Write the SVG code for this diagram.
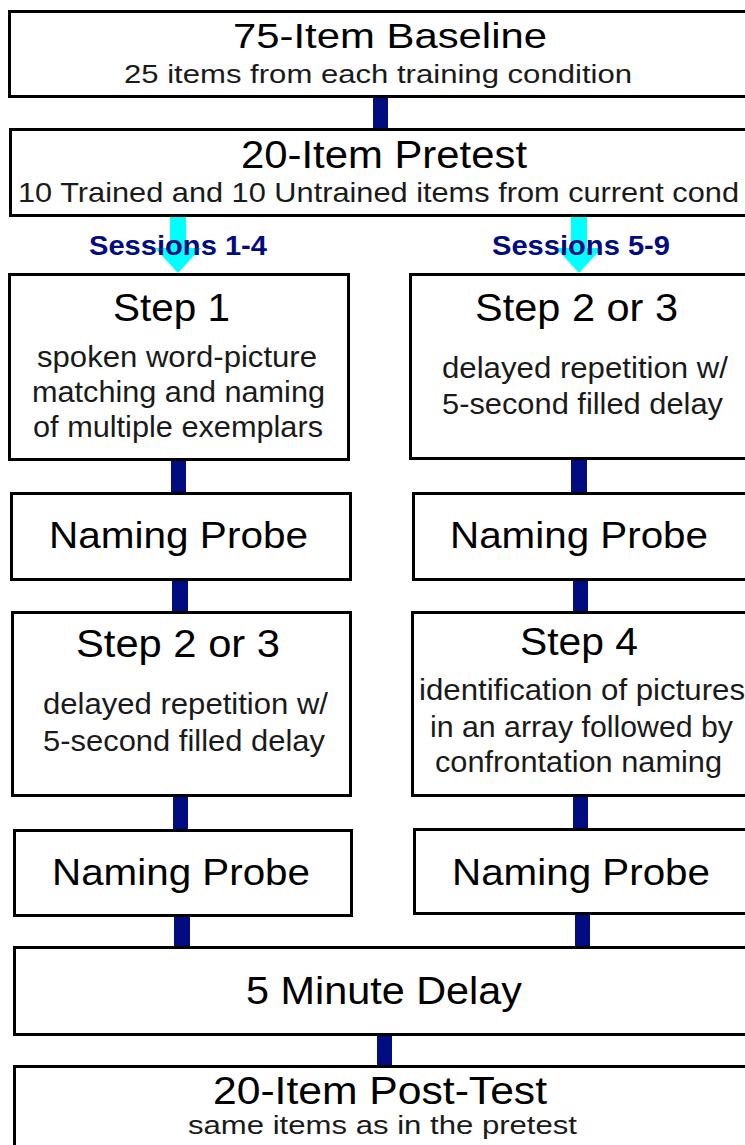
<svg xmlns="http://www.w3.org/2000/svg" width="745" height="1145" viewBox="0 0 745 1145">
<style>
.box{fill:#fff;stroke:#000;stroke-width:3}
.con{fill:#000c80}
.arr{fill:#00ffff}
text{font-family:"Liberation Sans",Arial,sans-serif;fill:#000}
.t{font-size:38px}
.np{font-size:36px}
.s{font-size:29px;fill:#1a1a1a}
.ses{font-size:27px;font-weight:bold;fill:#000c80}
</style>
<rect width="745" height="1145" fill="#fff"/>
<g id="connectors">
<rect class="con" x="373" y="97" width="15" height="32"/>
<rect class="con" x="171" y="459" width="15" height="35"/>
<rect class="con" x="172" y="579" width="16" height="34"/>
<rect class="con" x="173" y="795" width="15" height="36"/>
<rect class="con" x="174" y="915" width="16" height="33"/>
<rect class="con" x="571" y="458" width="16" height="36"/>
<rect class="con" x="573" y="579" width="15" height="34"/>
<rect class="con" x="573" y="795" width="15" height="35"/>
<rect class="con" x="575" y="913" width="15" height="35"/>
<rect class="con" x="377" y="1034" width="15" height="33"/>
<polygon class="arr" points="170,216 186,216 186,248 201,248 178,273 155,248 170,248"/>
<polygon class="arr" points="571,216 587,216 587,248 602,248 579,273 556,248 571,248"/>
</g>
<g id="baseline">
<rect class="box" x="9.5" y="11.5" width="760" height="85"/>
<text class="t" x="233" y="48" style="font-size:35px" textLength="314" lengthAdjust="spacingAndGlyphs">75-Item Baseline</text>
<text class="s" x="124" y="83" style="font-size:25px" textLength="508" lengthAdjust="spacingAndGlyphs">25 items from each training condition</text>
</g>
<g id="pretest">
<rect class="box" x="10.5" y="129.5" width="760" height="86"/>
<text class="t" x="241" y="168" textLength="286" lengthAdjust="spacingAndGlyphs">20-Item Pretest</text>
<text class="s" x="18" y="202" style="font-size:28px" textLength="721" lengthAdjust="spacingAndGlyphs">10 Trained and 10 Untrained items from current cond</text>
</g>
<g id="sessions-labels">
<text class="ses" x="89" y="255" textLength="178" lengthAdjust="spacingAndGlyphs">Sessions 1-4</text>
<text class="ses" x="492" y="255" textLength="178" lengthAdjust="spacingAndGlyphs">Sessions 5-9</text>
</g>
<g id="step1">
<rect class="box" x="9.5" y="274.5" width="339" height="185"/>
<text class="t" x="113" y="321" textLength="117" lengthAdjust="spacingAndGlyphs">Step 1</text>
<text class="s" x="37" y="367" textLength="280" lengthAdjust="spacingAndGlyphs">spoken word-picture</text>
<text class="s" x="32" y="402" textLength="293" lengthAdjust="spacingAndGlyphs">matching and naming</text>
<text class="s" x="33" y="437" textLength="290" lengthAdjust="spacingAndGlyphs">of multiple exemplars</text>
</g>
<g id="probe-l1">
<rect class="box" x="11.5" y="493.5" width="339" height="86"/>
<text class="np" x="49" y="548" textLength="259" lengthAdjust="spacingAndGlyphs">Naming Probe</text>
</g>
<g id="step23-l">
<rect class="box" x="12.5" y="612.5" width="338" height="183"/>
<text class="t" x="76" y="657" textLength="204" lengthAdjust="spacingAndGlyphs">Step 2 or 3</text>
<text class="s" x="43" y="714" textLength="285" lengthAdjust="spacingAndGlyphs">delayed repetition w/</text>
<text class="s" x="43" y="751" textLength="282" lengthAdjust="spacingAndGlyphs">5-second filled delay</text>
</g>
<g id="probe-l2">
<rect class="box" x="14.5" y="830.5" width="337" height="85"/>
<text class="np" x="52" y="885" textLength="258" lengthAdjust="spacingAndGlyphs">Naming Probe</text>
</g>
<g id="step23-r">
<rect class="box" x="410.5" y="274.5" width="400" height="184"/>
<text class="t" x="475" y="321" textLength="203" lengthAdjust="spacingAndGlyphs">Step 2 or 3</text>
<text class="s" x="442" y="378" textLength="286" lengthAdjust="spacingAndGlyphs">delayed repetition w/</text>
<text class="s" x="442" y="414" textLength="281" lengthAdjust="spacingAndGlyphs">5-second filled delay</text>
</g>
<g id="probe-r1">
<rect class="box" x="413.5" y="493.5" width="400" height="86"/>
<text class="np" x="450" y="548" textLength="258" lengthAdjust="spacingAndGlyphs">Naming Probe</text>
</g>
<g id="step4">
<rect class="box" x="412.5" y="612.5" width="400" height="183"/>
<text class="t" x="520" y="655" textLength="118" lengthAdjust="spacingAndGlyphs">Step 4</text>
<text class="s" x="419" y="700" textLength="326" lengthAdjust="spacingAndGlyphs">identification of pictures</text>
<text class="s" x="430" y="737" textLength="303" lengthAdjust="spacingAndGlyphs">in an array followed by</text>
<text class="s" x="435" y="772" textLength="287" lengthAdjust="spacingAndGlyphs">confrontation naming</text>
</g>
<g id="probe-r2">
<rect class="box" x="414.5" y="829.5" width="400" height="84"/>
<text class="np" x="452" y="885" textLength="258" lengthAdjust="spacingAndGlyphs">Naming Probe</text>
</g>
<g id="delay">
<rect class="box" x="14.5" y="947.5" width="760" height="87"/>
<text class="t" x="246" y="1004" textLength="276" lengthAdjust="spacingAndGlyphs">5 Minute Delay</text>
</g>
<g id="posttest">
<rect class="box" x="14.5" y="1066.5" width="760" height="200"/>
<text class="t" x="213" y="1104" textLength="334" lengthAdjust="spacingAndGlyphs">20-Item Post-Test</text>
<text class="s" x="188" y="1134" style="font-size:26px" textLength="389" lengthAdjust="spacingAndGlyphs">same items as in the pretest</text>
</g>
</svg>
